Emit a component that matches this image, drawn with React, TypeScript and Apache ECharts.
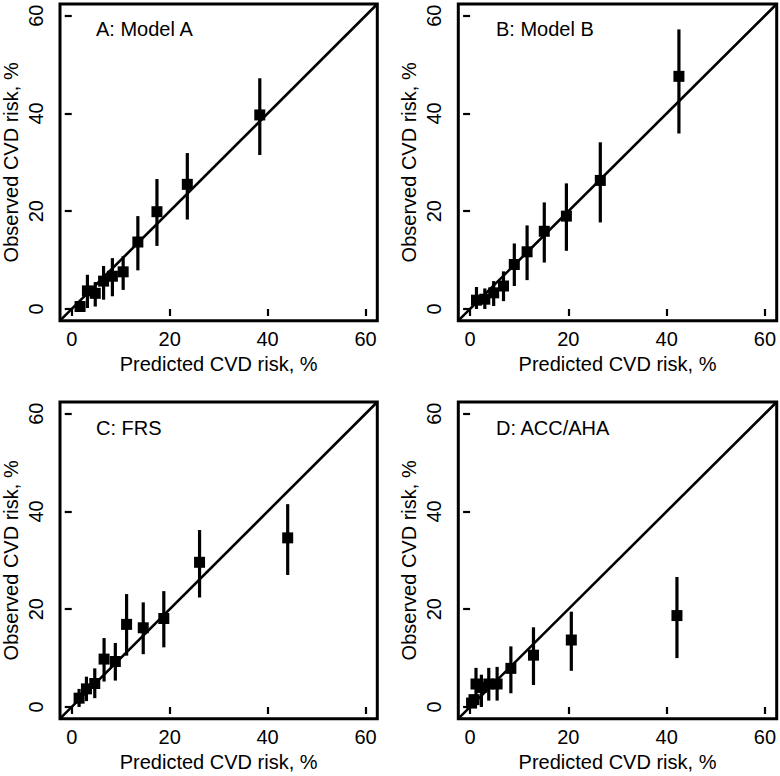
import React, { useEffect, useRef } from "react";
import * as echarts from "echarts";

// ---- data ----
const panelTitles = ["A: Model A", "B: Model B", "C: FRS", "D: ACC/AHA"];
const tickValues = [0, 20, 40, 60];

const predA = [1.7, 3.2, 4.8, 6.5, 8.3, 10.5, 13.5, 17.4, 23.6, 38.4];
const obsA = [0.5, 3.7, 3.2, 5.7, 6.7, 7.6, 13.7, 19.9, 25.5, 39.7];
const loA = [0.0, 0.2, 0.5, 1.9, 2.6, 3.9, 7.9, 12.9, 18.3, 31.5];
const hiA = [1.0, 7.0, 5.5, 8.8, 10.4, 10.8, 19.0, 26.6, 31.9, 47.2];

const predB = [1.3, 3.0, 4.8, 6.8, 9.0, 11.6, 15.1, 19.6, 26.5, 42.5];
const obsB = [1.8, 2.0, 3.3, 4.7, 9.1, 11.7, 15.9, 19.0, 26.3, 47.6];
const loB = [0.0, 0.0, 0.6, 1.6, 4.7, 5.9, 9.5, 11.9, 17.7, 35.9];
const hiB = [4.5, 4.2, 5.7, 7.7, 13.4, 17.1, 21.8, 25.7, 34.1, 57.2];

const predC = [1.5, 3.0, 4.7, 6.6, 8.9, 11.2, 14.6, 18.8, 26.1, 44.1];
const obsC = [1.8, 3.7, 4.8, 9.8, 9.3, 16.9, 16.2, 18.1, 29.6, 34.6];
const loC = [0.0, 1.2, 1.8, 5.2, 5.4, 10.5, 10.8, 12.2, 22.4, 27.0];
const hiC = [3.7, 6.2, 7.9, 14.1, 13.1, 23.1, 21.4, 23.7, 36.2, 41.5];

const predD = [0.3, 0.8, 1.2, 2.3, 3.8, 5.5, 8.3, 12.9, 20.6, 42.1];
const obsD = [0.8, 1.5, 4.7, 4.0, 4.7, 4.7, 7.9, 10.6, 13.7, 18.7];
const loD = [0.0, 0.3, 1.6, 0.0, 1.3, 1.3, 2.8, 4.5, 7.4, 10.0];
const hiD = [1.6, 2.5, 8.0, 6.6, 8.0, 8.2, 12.4, 16.3, 19.5, 26.6];

const panels = [
  { pred: predA, obs: obsA, lo: loA, hi: hiA },
  { pred: predB, obs: obsB, lo: loB, hi: hiB },
  { pred: predC, obs: obsC, lo: loC, hi: hiC },
  { pred: predD, obs: obsD, lo: loD, hi: hiD },
];

const AXIS_MIN = -2.4;
const AXIS_MAX = 62.4;

const FONT = "'Liberation Sans', Arial, Helvetica, sans-serif";

// layout (pixels)
const gridRects = [
  { left: 59.3, top: 4, width: 318, height: 316.7 },
  { left: 458.3, top: 4, width: 318.4, height: 316.7 },
  { left: 59.3, top: 402, width: 318, height: 316.7 },
  { left: 458.3, top: 402, width: 318.4, height: 316.7 },
];
const titlePos = [
  { left: 96, top: 18.5 },
  { left: 496, top: 18.5 },
  { left: 96, top: 418 },
  { left: 496, top: 418 },
];

export default function App() {
  const ref = useRef<HTMLDivElement>(null);

  useEffect(() => {
    if (!ref.current) return;
    const chart = echarts.init(ref.current, null, { renderer: "svg" });

    const textStyle = { color: "#000", fontSize: 20, fontFamily: FONT, fontWeight: "normal" as const };

    const grid = gridRects.map((r) => ({
      ...r,
      show: true,
      borderColor: "#000",
      borderWidth: 3,
      backgroundColor: "transparent",
      containLabel: false,
    }));

    const title = panelTitles.map((t, i) => ({
      text: t,
      left: titlePos[i].left,
      top: titlePos[i].top,
      padding: 0,
      textStyle,
    }));

    const commonAxis = (i: number) => ({
      type: "value" as const,
      gridIndex: i,
      min: AXIS_MIN,
      max: AXIS_MAX,
      splitLine: { show: false },
      axisLine: { show: false },
      axisTick: {
        show: true,
        inside: false,
        length: 7,
        customValues: tickValues,
        lineStyle: { color: "#000", width: 2.2 },
      },
      nameLocation: "middle" as const,
      nameTextStyle: { ...textStyle },
    });

    const xAxis = panels.map((_, i) => ({
      ...commonAxis(i),
      name: "Predicted CVD risk, %",
      nameGap: 33,
      axisLabel: { ...textStyle, customValues: tickValues, margin: 8 },
    }));

    const yAxis = panels.map((_, i) => ({
      ...commonAxis(i),
      name: "Observed CVD risk, %",
      nameGap: 39,
      axisLabel: { ...textStyle, customValues: tickValues, margin: 14, rotate: 90 },
    }));

    const series: any[] = [];
    panels.forEach((p, i) => {
      series.push({
        type: "line",
        xAxisIndex: i,
        yAxisIndex: i,
        data: [
          [AXIS_MIN, AXIS_MIN],
          [AXIS_MAX, AXIS_MAX],
        ],
        symbol: "none",
        silent: true,
        lineStyle: { color: "#000", width: 2.6, opacity: 1 },
      });
      series.push({
        type: "custom",
        xAxisIndex: i,
        yAxisIndex: i,
        data: p.pred.map((x, k) => [x, p.lo[k], p.hi[k]]),
        encode: { x: 0, y: [1, 2] },
        renderItem: (params: any, api: any) => {
          const x = api.value(0);
          const a = api.coord([x, api.value(1)]);
          const b = api.coord([x, api.value(2)]);
          return {
            type: "line",
            shape: { x1: a[0], y1: a[1], x2: b[0], y2: b[1] },
            style: { stroke: "#000", lineWidth: 3.2 },
          };
        },
      });
      series.push({
        type: "scatter",
        xAxisIndex: i,
        yAxisIndex: i,
        data: p.pred.map((x, k) => [x, p.obs[k]]),
        symbol: "rect",
        symbolSize: 11,
        itemStyle: { color: "#000", opacity: 1 },
      });
    });

    chart.setOption({
      animation: false,
      backgroundColor: "#fff",
      title,
      grid,
      xAxis,
      yAxis,
      series,
    });

    return () => chart.dispose();
  }, []);

  return (
    <div
      ref={ref}
      style={{ position: "fixed", left: 0, top: 0, width: 780, height: 776, background: "#fff" }}
    />
  );
}
